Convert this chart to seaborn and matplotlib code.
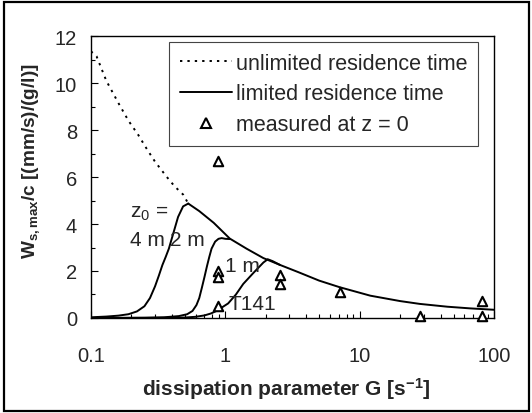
import matplotlib
matplotlib.use("Agg")
import matplotlib.pyplot as plt
from matplotlib.lines import Line2D
from matplotlib.patches import Rectangle
from matplotlib.ticker import MultipleLocator, LogLocator, NullFormatter, FixedLocator, FixedFormatter
import pandas as pd
import seaborn as sns

# Settling velocity bound without residence-time limit
g_unlimited = [0.10, 0.11, 0.13, 0.16, 0.19, 0.225, 0.26, 0.30, 0.366, 0.42, 0.486, 0.53]
w_unlimited = [11.35, 11.14, 10.10, 9.15, 8.40, 7.79, 7.20, 6.65, 6.01, 5.60, 5.25, 4.87]

# Limited residence time: rising branches for each release height z0
g_4m = [0.10, 0.13, 0.16, 0.19, 0.22, 0.25, 0.275, 0.30, 0.32, 0.34, 0.36, 0.38, 0.41, 0.445, 0.485, 0.53]
w_4m = [0.03, 0.06, 0.10, 0.16, 0.28, 0.50, 0.85, 1.35, 1.80, 2.25, 2.60, 2.95, 3.60, 4.30, 4.75, 4.87]

g_2m = [0.10, 0.25, 0.35, 0.45, 0.52, 0.57, 0.61, 0.64, 0.67, 0.70, 0.73, 0.76, 0.79, 0.84, 0.89, 0.94, 1.00, 1.08]
w_2m = [0.00, 0.01, 0.03, 0.08, 0.16, 0.30, 0.55, 0.85, 1.30, 1.75, 2.20, 2.60, 2.95, 3.25, 3.37, 3.40, 3.37, 3.36]

g_1m = [0.10, 0.40, 0.50, 0.60, 0.70, 0.78, 0.86, 1.05, 1.20, 1.36, 1.62, 1.92, 2.07, 2.25, 2.55]
w_1m = [0.00, 0.01, 0.02, 0.05, 0.11, 0.19, 0.30, 0.62, 1.00, 1.45, 1.92, 2.36, 2.50, 2.42, 2.26]

# Common envelope of the limited-residence-time curves
g_envelope = [0.53, 0.64, 0.82, 1.08, 1.44, 1.92, 2.55, 3.5, 5.0, 7.1, 12, 20, 28, 45, 66, 100]
w_envelope = [4.87, 4.55, 4.05, 3.38, 2.95, 2.55, 2.26, 1.95, 1.59, 1.31, 0.95, 0.72, 0.60, 0.48, 0.41, 0.35]

# Measurements at z = 0
g_measured = [0.885, 0.885, 0.885, 0.885, 2.55, 2.55, 7.2, 28, 81, 81]
w_measured = [6.67, 2.02, 1.74, 0.50, 1.81, 1.45, 1.12, 0.10, 0.74, 0.10]

height_labels = ["z$_0$ =", "4 m", "2 m", "1 m", "T141"]
legend_labels = ["unlimited residence time", "limited residence time", "measured at z = 0"]

x_ticks = [0.1, 1, 10, 100]
x_ticklabels = ["0.1", "1", "10", "100"]
y_ticks = [0, 2, 4, 6, 8, 10, 12]

sns.set_style("ticks")
plt.rcParams["font.family"] = ["Liberation Sans", "DejaVu Sans"]
plt.rcParams["mathtext.fontset"] = "custom"
plt.rcParams["mathtext.rm"] = "Liberation Sans"
plt.rcParams["mathtext.it"] = "Liberation Sans"
plt.rcParams["mathtext.bf"] = "Liberation Sans:bold"

fig = plt.figure(figsize=(5.32, 4.14), dpi=100)
ax = fig.add_axes([0.171, 0.2295, 0.7575, 0.681])

fs = 14.5
dotted = (0, (1.2, 2.6))
line_kw = dict(color="black", linewidth=1.4, estimator=None, sort=False, ax=ax, legend=False)

sns.lineplot(data=pd.DataFrame({"G": g_unlimited, "W": w_unlimited}), x="G", y="W",
             linestyle=dotted, **line_kw)
for g, w in [(g_4m, w_4m), (g_2m, w_2m), (g_1m, w_1m), (g_envelope, w_envelope)]:
    sns.lineplot(data=pd.DataFrame({"G": g, "W": w}), x="G", y="W", **line_kw)

sns.scatterplot(data=pd.DataFrame({"G": g_measured, "W": w_measured}), x="G", y="W",
                marker="^", s=46, facecolor="white", edgecolor="black", linewidth=1.5,
                ax=ax, legend=False, zorder=5, clip_on=False)

ax.set_xscale("log")
ax.set_xlim(0.1, 100)
ax.set_ylim(0, 12)
ax.xaxis.set_major_locator(FixedLocator(x_ticks))
ax.xaxis.set_major_formatter(FixedFormatter(x_ticklabels))
ax.xaxis.set_minor_locator(LogLocator(base=10, subs=range(2, 10)))
ax.xaxis.set_minor_formatter(NullFormatter())
ax.yaxis.set_major_locator(FixedLocator(y_ticks))
ax.yaxis.set_minor_locator(MultipleLocator(1))

ax.tick_params(axis="both", which="both", direction="in", color="black", width=0.8)
ax.tick_params(axis="both", which="major", length=5, labelsize=fs)
ax.tick_params(axis="both", which="minor", length=3)
ax.tick_params(axis="x", which="major", pad=20)
ax.tick_params(axis="y", which="major", pad=10)
for sp in ax.spines.values():
    sp.set_visible(True)
    sp.set_color("black")
    sp.set_linewidth(1.0)

ax.set_xlabel(r"dissipation parameter G [s$^{\mathbf{-1}}$]", fontsize=15, fontweight="bold")
ax.set_ylabel(r"$\mathbf{W}_{\mathbf{s,max}}$/c [(mm/s)/(g/l)]", fontsize=13.7, fontweight="bold")
ax.yaxis.set_label_coords(-0.122, 0.56)
ax.xaxis.set_label_coords(0.484, -0.204)

# Release-height annotations
label_pos = [(0.195, 4.49), (0.195, 3.33), (0.387, 3.33), (1.0, 2.22), (1.05, 0.62)]
for txt, (gx, wy) in zip(height_labels, label_pos):
    ax.text(gx, wy, txt, fontsize=15, ha="left", va="center")

handles = [
    Line2D([], [], color="black", linestyle=dotted, linewidth=1.4),
    Line2D([], [], color="black", linewidth=1.4),
    Line2D([], [], color="black", marker="^", linestyle="none", markersize=6.5,
           markerfacecolor="white", markeredgewidth=1.5),
]
leg = ax.legend(handles, legend_labels, loc="upper right", bbox_to_anchor=(0.960, 0.979),
                borderaxespad=0, fontsize=15.5, frameon=True, fancybox=False, shadow=False,
                handlelength=2.45, handletextpad=0.15, labelspacing=0.45, borderpad=0.5)
leg.get_frame().set_edgecolor("#444444")
leg.get_frame().set_linewidth(0.8)
leg.get_frame().set_alpha(1)

# Outer frame round the whole figure
fig.patches.append(Rectangle((0.007, 0.005), 0.988, 0.988, transform=fig.transFigure,
                             fill=False, edgecolor="black", linewidth=1.6))

fig.savefig("out.png", dpi=100)
